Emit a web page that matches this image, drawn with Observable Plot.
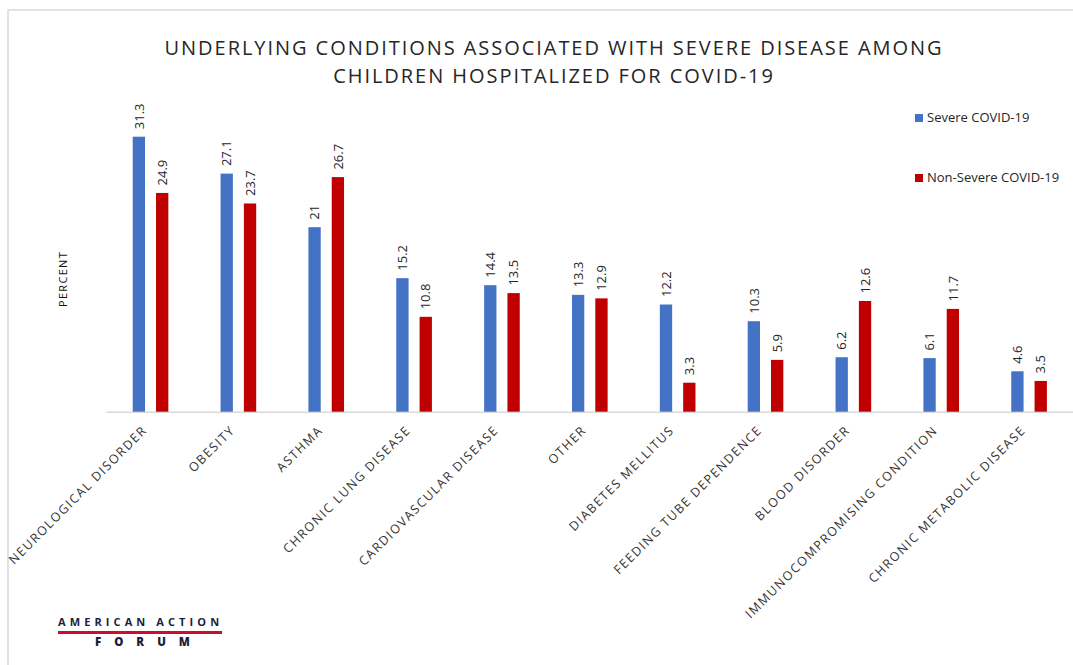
<!DOCTYPE html>
<html><head><meta charset="utf-8">
<script src="https://cdn.jsdelivr.net/npm/d3@7"></script>
<script src="https://cdn.jsdelivr.net/npm/@observablehq/plot@0.6"></script>
<style>
body{margin:0;background:#fff;font-family:"Open Sans",sans-serif;}
#wrap{position:relative;width:1073px;height:665px;overflow:hidden;background:#fff;}
.frame{position:absolute;left:7px;top:9px;width:2000px;height:2000px;border-left:2px solid #e3e3e3;border-top:2px solid #e3e3e3;}
.title{position:absolute;left:0;width:1108px;top:34px;text-align:center;font-size:20px;line-height:27.7px;letter-spacing:1.95px;color:#262626;}
#chart{position:absolute;left:0;top:0;}
.ylab{position:absolute;left:62px;top:279px;transform:translate(-50%,-50%) rotate(-90deg);font-size:11px;letter-spacing:1.3px;color:#111;white-space:nowrap;}
.legend{position:absolute;left:915px;font-size:13px;color:#262626;white-space:nowrap;}
.legend span.sw{display:inline-block;width:8px;height:8px;margin-right:4px;vertical-align:0px;}
.logo1{position:absolute;left:58px;top:614px;font-size:11px;font-weight:700;letter-spacing:4.1px;color:#1b1f3b;white-space:nowrap;}
.logoline{position:absolute;left:58px;top:631px;width:164px;height:3px;background:#c8102e;}
.logo2{position:absolute;left:95px;top:634px;font-size:11.5px;font-weight:800;letter-spacing:13px;color:#1b1f3b;white-space:nowrap;}
#chart svg g[aria-label="category-label"] text,
#chart svg text[aria-label="category-label"],
#chart svg text[transform*="rotate(-45"]{letter-spacing:1.5px;}
</style></head><body>
<div id="wrap">
  <div class="frame"></div>
  <div class="title">UNDERLYING CONDITIONS ASSOCIATED WITH SEVERE DISEASE AMONG<br>CHILDREN HOSPITALIZED FOR COVID-19</div>
  <div id="chart"></div>
  <div class="ylab">PERCENT</div>
  <div class="legend" id="leg1" style="top:108px"></div>
  <div class="legend" id="leg2" style="top:168px"></div>
  <div class="logo1">AMERICAN ACTION</div>
  <div class="logoline"></div>
  <div class="logo2">FORUM</div>
</div>
<script>
const conditions = ["NEUROLOGICAL DISORDER","OBESITY","ASTHMA","CHRONIC LUNG DISEASE","CARDIOVASCULAR DISEASE","OTHER","DIABETES MELLITUS","FEEDING TUBE DEPENDENCE","BLOOD DISORDER","IMMUNOCOMPROMISING CONDITION","CHRONIC METABOLIC DISEASE"];
const severe = [31.3, 27.1, 21, 15.2, 14.4, 13.3, 12.2, 10.3, 6.2, 6.1, 4.6];
const nonSevere = [24.9, 23.7, 26.7, 10.8, 13.5, 12.9, 3.3, 5.9, 12.6, 11.7, 3.5];
const seriesNames = ["Severe COVID-19", "Non-Severe COVID-19"];
const seriesColors = ["#4472C4", "#C00000"];

const data = conditions.flatMap((c, i) => [
  {condition: c, series: seriesNames[0], value: severe[i]},
  {condition: c, series: seriesNames[1], value: nonSevere[i]}
]);

const chart = Plot.plot({
  width: 1073,
  height: 665,
  marginLeft: 106.6,
  marginRight: 0,
  marginTop: 104.2,
  marginBottom: 253.3,
  style: {fontFamily: "Open Sans", fontSize: "12px", background: "transparent", overflow: "visible"},
  fx: {domain: conditions, padding: 0, round: false, axis: null},
  x: {domain: seriesNames, paddingInner: 0.472, paddingOuter: 1.12, round: false, axis: null},
  y: {domain: [0, 35], axis: null},
  color: {domain: seriesNames, range: seriesColors},
  marks: [
    Plot.ruleY([0], {stroke: "#d9d9d9", strokeWidth: 1.5}),
    Plot.barY(data, {fx: "condition", x: "series", y: "value", fill: "series"}),
    Plot.text(data, {fx: "condition", x: "series", y: "value", text: d => String(d.value),
      rotate: -90, textAnchor: "start", dy: -8, fill: "#262626", fontSize: 13}),
    Plot.text(conditions, {fx: d => d, text: d => d, frameAnchor: "bottom", rotate: -45,
      textAnchor: "end", lineAnchor: "middle", dx: -6, dy: 16, fill: "#333", fontSize: 12.5,
      ariaLabel: "category-label"})
  ]
});
document.getElementById("chart").appendChild(chart);

[["leg1", 0], ["leg2", 1]].forEach(([id, i]) => {
  const el = document.getElementById(id);
  el.innerHTML = `<span class="sw" style="background:${seriesColors[i]}"></span>${seriesNames[i]}`;
});
</script>
</body></html>
